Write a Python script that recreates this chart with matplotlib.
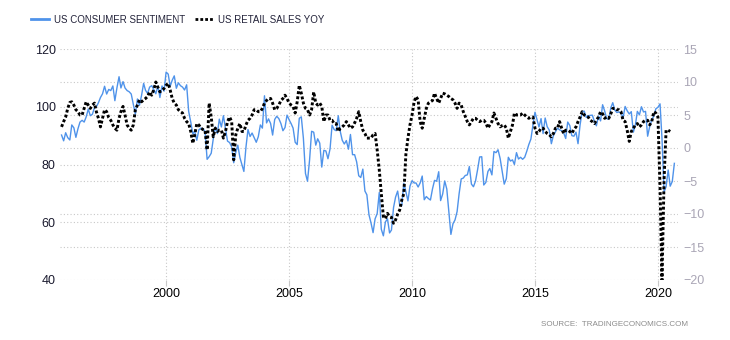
import numpy as np
import pandas as pd
import matplotlib
matplotlib.use("Agg")
import matplotlib.pyplot as plt
import matplotlib.dates as mdates

# monthly data, consumer sentiment from Oct 1995, retail sales yoy from Oct 1995
sentiment = [
    90.2, 88.2, 91.0,
    89.3, 88.5, 93.7, 92.7, 89.4, 92.4, 94.7, 95.3, 94.7, 96.5, 99.2, 96.9,
    97.4, 99.7, 100.0, 101.4, 103.2, 104.5, 107.1, 104.4, 106.0, 105.6, 107.2, 102.1,
    106.6, 110.4, 106.5, 108.7, 106.5, 105.6, 105.2, 104.4, 100.9, 97.4, 102.7, 100.5,
    103.9, 108.1, 105.7, 104.6, 106.8, 107.3, 106.0, 104.5, 107.2, 103.2, 107.2, 105.4,
    112.0, 111.3, 107.1, 109.2, 110.7, 106.4, 108.3, 107.3, 106.8, 105.8, 107.6, 98.4,
    94.7, 90.6, 91.5, 88.4, 92.0, 92.6, 92.4, 91.5, 81.8, 82.7, 83.9, 88.8,
    93.0, 90.7, 95.7, 93.0, 96.9, 92.4, 88.1, 87.6, 86.1, 80.6, 84.2, 86.7,
    82.4, 79.9, 77.6, 86.0, 92.1, 89.7, 90.9, 89.3, 87.7, 89.6, 93.7, 92.6,
    103.8, 94.4, 95.8, 94.2, 90.2, 95.6, 96.7, 95.9, 94.2, 91.7, 92.8, 97.1,
    95.5, 94.1, 92.6, 87.7, 86.9, 96.0, 96.5, 89.1, 76.9, 74.2, 81.6, 91.5,
    91.2, 86.7, 88.9, 87.4, 79.1, 84.9, 84.7, 82.0, 85.4, 93.6, 92.1, 91.7,
    96.9, 91.3, 88.4, 87.1, 88.3, 85.3, 90.4, 83.4, 83.4, 80.9, 76.1, 75.5,
    78.4, 70.8, 69.5, 62.6, 59.8, 56.4, 61.2, 63.0, 70.3, 57.6, 55.3, 60.1,
    61.2, 56.3, 57.3, 65.1, 68.7, 70.8, 66.0, 65.7, 73.5, 70.6, 67.4, 72.5,
    74.4, 73.6, 73.6, 72.2, 73.6, 76.0, 67.8, 68.9, 68.2, 67.7, 71.6, 74.5,
    74.2, 77.5, 67.5, 69.8, 74.3, 71.5, 63.7, 55.8, 59.5, 60.8, 63.7, 69.9,
    75.0, 75.3, 76.2, 76.4, 79.3, 73.2, 72.3, 74.3, 78.3, 82.6, 82.7, 72.9,
    73.8, 77.6, 78.6, 76.4, 84.5, 84.1, 85.1, 82.1, 77.5, 73.2, 75.1, 82.5,
    81.2, 81.6, 80.0, 84.1, 81.9, 82.5, 81.8, 82.5, 84.6, 86.9, 88.8, 93.6,
    98.1, 95.4, 93.0, 95.9, 90.7, 96.1, 93.1, 91.9, 87.2, 90.0, 91.3, 92.6,
    92.0, 91.7, 91.0, 89.0, 94.7, 93.5, 90.0, 89.8, 91.2, 87.2, 93.8, 98.2,
    98.5, 96.3, 96.9, 97.0, 97.1, 95.0, 93.4, 96.8, 95.1, 100.7, 98.5, 95.9,
    95.7, 99.7, 101.4, 98.8, 98.0, 98.2, 97.9, 96.2, 100.1, 98.6, 97.5, 98.3,
    91.2, 93.8, 98.4, 97.2, 100.0, 98.2, 98.4, 89.8, 93.2, 95.5, 96.8, 99.3,
    99.8, 101.0, 89.1, 70.5, 72.3, 78.1, 72.5, 74.1, 80.4,
]

retail_yoy = [
    3.2, 4.0, 4.7,
    6.0, 6.9, 7.0, 6.5, 5.8, 5.5, 5.0, 5.0, 6.0, 7.0, 6.5, 6.0,
    6.5, 6.8, 5.5, 4.5, 3.2, 4.5, 5.8, 5.5, 4.6, 4.2, 3.5, 3.0,
    2.7, 4.5, 5.5, 6.3, 5.0, 3.5, 3.0, 2.7, 3.5, 5.8, 6.5, 7.3,
    7.0, 7.3, 7.5, 7.8, 8.5, 8.0, 8.8, 10.0, 9.2, 8.5, 8.8, 9.0,
    9.5, 9.8, 8.8, 7.5, 6.8, 6.5, 5.8, 5.5, 5.3, 4.5, 4.0, 3.7,
    2.5, 0.7, 2.0, 3.7, 3.5, 3.0, 2.8, 2.7, -0.3, 6.8, 4.7, 1.7,
    3.0, 2.5, 2.7, 2.7, 1.5, 2.5, 4.0, 4.7, 4.0, -1.8, 2.0, 3.0,
    3.7, 2.5, 2.5, 3.5, 4.2, 4.5, 5.0, 5.8, 5.8, 5.5, 5.5, 6.0,
    6.8, 7.2, 7.5, 7.5, 6.8, 5.8, 6.0, 6.5, 7.2, 7.5, 8.0, 7.5,
    6.8, 6.5, 6.3, 5.3, 7.0, 9.5, 8.3, 6.8, 6.0, 5.8, 5.0, 5.8,
    8.5, 6.8, 6.5, 6.8, 6.3, 4.0, 5.0, 5.0, 4.2, 4.2, 3.7, 3.7,
    2.5, 3.0, 3.2, 3.5, 4.0, 3.5, 3.0, 3.2, 3.8, 4.5, 5.5, 4.0,
    2.7, 2.2, 1.5, 1.5, 1.5, 2.0, 2.2, -0.3, -3.3, -6.9, -10.4, -10.7,
    -9.9, -10.4, -10.5, -11.4, -10.9, -10.0, -9.4, -7.9, -6.9, -1.0, 1.5, 3.5,
    5.0, 7.0, 7.8, 7.3, 4.0, 3.0, 4.5, 6.0, 6.8, 7.0, 7.2, 8.3,
    7.5, 6.8, 7.5, 8.3, 8.2, 8.0, 7.8, 7.5, 7.3, 6.8, 6.0, 6.8,
    6.5, 5.5, 4.8, 4.0, 3.5, 4.0, 4.5, 4.5, 4.2, 4.0, 4.2, 4.2,
    3.8, 3.0, 3.5, 4.0, 5.3, 4.5, 3.7, 3.2, 3.4, 3.5, 3.0, 1.5,
    2.5, 3.5, 5.3, 5.0, 5.0, 5.0, 5.3, 5.0, 4.7, 4.5, 4.7, 4.7,
    3.0, 2.2, 2.5, 3.0, 3.0, 2.5, 2.2, 2.0, 1.7, 2.2, 3.0, 3.0,
    4.0, 3.0, 2.2, 2.7, 2.7, 2.5, 2.2, 2.8, 3.2, 4.0, 4.7, 5.5,
    5.0, 4.8, 4.7, 4.2, 4.0, 3.7, 4.2, 4.7, 5.5, 5.2, 4.5, 4.7,
    4.5, 5.2, 6.0, 6.0, 5.8, 5.8, 5.5, 4.2, 4.0, 2.7, 1.0, 2.5,
    3.0, 3.5, 3.7, 3.2, 3.5, 4.0, 4.2, 4.2, 3.5, 4.0, 5.5, 5.3,
    4.7, -5.9, -20.0, -4.8, 2.7, 2.7, 2.5,
]

left_ticks = [40, 60, 80, 100, 120]
right_ticks = [-20, -15, -10, -5, 0, 5, 10, 15]
year_ticks = [2000, 2005, 2010, 2015, 2020]

sent_dates = pd.date_range("1995-10-01", periods=len(sentiment), freq="MS")
retail_dates = pd.date_range("1995-10-01", periods=len(retail_yoy), freq="MS")

plt.rcParams["font.family"] = ["Liberation Sans", "DejaVu Sans"]

fig = plt.figure(figsize=(7.3, 3.4), dpi=100)
ax = fig.add_axes([60 / 730, 60 / 340, 618 / 730, 231 / 340])
ax2 = ax.twinx()

blue = "#4f93ea"
grid_c = "#c8c8c8"
dots = (0, (1.0, 0.75))

ax.plot(sent_dates, sentiment, color=blue, lw=1.0, zorder=3)
ax2.plot(retail_dates, retail_yoy, color="black", lw=2.1,
         linestyle=dots, dash_capstyle="butt", zorder=4)

ax.set_ylim(40, 120)
ax2.set_ylim(-20, 15)
ax.set_xlim(pd.Timestamp("1995-09-08"), pd.Timestamp("2020-10-25"))

ax.set_yticks(left_ticks)
# right axis gridlines drawn on the left axis as minor ticks
minor = [40 + (r + 20) / 35 * 80 for r in right_ticks]
ax.set_yticks(minor, minor=True)
ax2.set_yticks(right_ticks)
ax.set_xticks([pd.Timestamp(f"{y}-01-01") for y in year_ticks])
ax.xaxis.set_major_formatter(mdates.DateFormatter("%Y"))

ax.grid(True, which="both", axis="y", color=grid_c, ls=(0, (1, 2)), lw=0.8)
ax.grid(True, which="major", axis="x", color=grid_c, ls=(0, (1, 2)), lw=0.8)

for a in (ax, ax2):
    for s in a.spines.values():
        s.set_visible(False)

ax.tick_params(axis="y", which="both", length=0, labelsize=9, colors="#1a1a2e", pad=3)
ax.tick_params(axis="x", length=4, color=grid_c, labelsize=9, labelcolor="black", pad=2)
ax2.tick_params(axis="y", length=0, labelsize=9, labelcolor="#a9a5b5", pad=4)

# legend
leg_h = [plt.Line2D([], [], color=blue, lw=2.0),
         plt.Line2D([], [], color="black", lw=2.0, linestyle=dots,
                    dash_capstyle="butt")]
fig.legend(leg_h, ["US CONSUMER SENTIMENT", "US RETAIL SALES YOY"],
           loc="upper left", bbox_to_anchor=(22 / 730, 1 - 6 / 340), ncol=2,
           frameon=False, fontsize=7.0, handlelength=1.9, handletextpad=0.5,
           columnspacing=1.0, labelcolor="#23233a")

fig.text(688 / 730, 1 - 325 / 340, "SOURCE:  TRADINGECONOMICS.COM", ha="right",
         va="center", fontsize=5.8, color="#8c8c8c")

fig.savefig("out.png", dpi=100)
